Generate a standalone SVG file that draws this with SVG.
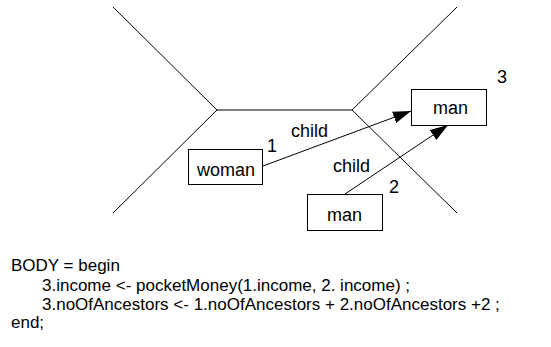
<svg xmlns="http://www.w3.org/2000/svg" width="551" height="347" viewBox="0 0 551 347">
<defs>
<style>
.ln{stroke:#000;stroke-width:1;fill:none}
.bx{fill:#fff;stroke:#000;stroke-width:1}
text{font-family:"Liberation Sans",Arial,sans-serif;font-size:17px;fill:#000}
.d{font-size:18px}
</style>
<marker id="ah" markerWidth="18" markerHeight="12" refX="18" refY="6" orient="auto" markerUnits="userSpaceOnUse">
<path d="M0,0 L18,6 L0,12 Z" fill="#000"/>
</marker>
</defs>
<g id="frame">
<path class="ln" d="M113,7 L217,110 L113,213 M217,110 L352,110 M457,7 L352,110 L457,213"/>
</g>
<g id="connectors">
<line class="ln" x1="263" y1="166" x2="411" y2="111" marker-end="url(#ah)"/>
<line class="ln" x1="345" y1="194" x2="448" y2="125" marker-end="url(#ah)"/>
<text class="d" x="291" y="137">child</text>
<text class="d" x="333" y="172">child</text>
</g>
<g id="node1">
<rect class="bx" x="188.5" y="149.5" width="74" height="35"/>
<text class="d" x="197" y="176">woman</text>
<text class="d" x="267" y="152">1</text>
</g>
<g id="node2">
<rect class="bx" x="307.5" y="194.5" width="75" height="36"/>
<text class="d" x="327" y="221">man</text>
<text class="d" x="389" y="193">2</text>
</g>
<g id="node3">
<rect class="bx" x="411.5" y="89.5" width="75" height="36"/>
<text class="d" x="433" y="114">man</text>
<text class="d" x="497" y="83">3</text>
</g>
<g id="code">
<text x="11" y="271">BODY = begin</text>
<text x="42" y="291">3.income &lt;- pocketMoney(1.income, 2. income) ;</text>
<text x="42" y="310">3.noOfAncestors &lt;- 1.noOfAncestors + 2.noOfAncestors +2 ;</text>
<text x="11" y="328">end;</text>
</g>
</svg>
